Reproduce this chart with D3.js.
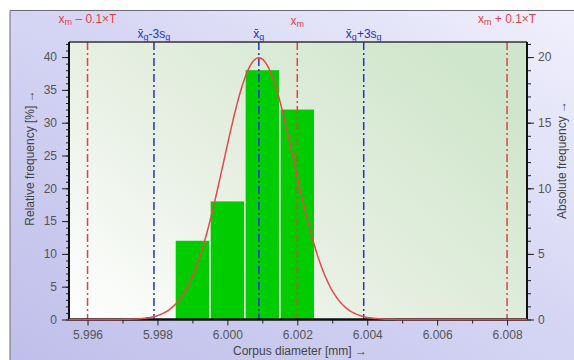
<!DOCTYPE html>
<html lang="en">
<head>
<meta charset="UTF-8">
<title>Corpus diameter histogram</title>
<script src="https://d3js.org/d3.v7.min.js"></script>
<style>
  body { margin: 0; background: #fff; }
  text { font-family: "Liberation Sans", Arial, sans-serif; }
</style>
</head>
<body>
<div id="chart"></div>
<script>
// histogram data
const binStarts = [5.9985, 5.9995, 6.0005, 6.0015];
const binWidth = 0.001;
const relFreq = [12, 18, 38, 32];          // percent
const sampleSize = 50;                       // absolute = rel * 50 / 100
const xTicks = [5.996, 5.998, 6.000, 6.002, 6.004, 6.006, 6.008];

// fitted normal and limits
const meanG = 6.0009, sG = 0.001;
const xm = 6.002, tenthT = 0.006;

const W = 574, H = 360;
const margin = { top: 42, right: 47, bottom: 40.5, left: 69 };
const iw = W - margin.left - margin.right,
      ih = H - margin.top - margin.bottom;

const svg = d3.select("#chart").append("svg")
    .attr("width", W).attr("height", H);

const defs = svg.append("defs");
const outerGrad = defs.append("linearGradient").attr("id", "outerBg")
    .attr("x1", "0").attr("y1", "1").attr("x2", "1").attr("y2", "0");
outerGrad.append("stop").attr("offset", "0").attr("stop-color", "#bfbfeb");
outerGrad.append("stop").attr("offset", "0.55").attr("stop-color", "#d6d6f4");
outerGrad.append("stop").attr("offset", "1").attr("stop-color", "#f0f0fd");

const plotGrad = defs.append("linearGradient").attr("id", "plotBg")
    .attr("x1", "0").attr("y1", "1").attr("x2", "1").attr("y2", "0.3");
plotGrad.append("stop").attr("offset", "0").attr("stop-color", "#ffffff");
plotGrad.append("stop").attr("offset", "0.45").attr("stop-color", "#e8f0e4");
plotGrad.append("stop").attr("offset", "1").attr("stop-color", "#d0e6cc");

// panel background
svg.append("rect").attr("x", 10).attr("y", 10).attr("width", W - 10).attr("height", H - 10)
    .attr("fill", "url(#outerBg)");
svg.append("path").attr("d", `M10,${H} V10.5 H${W}`)
    .attr("fill", "none").attr("stroke", "#6a6a7a").attr("stroke-width", 1);

const g = svg.append("g").attr("transform", `translate(${margin.left},${margin.top})`);

const x = d3.scaleLinear().domain([5.99547, 6.00857]).range([0, iw]);
const y = d3.scaleLinear().domain([0, 42.3]).range([ih, 0]);
const yAbs = d3.scaleLinear().domain([0, 42.3 * sampleSize / 100]).range([ih, 0]);

g.append("rect").attr("width", iw).attr("height", ih).attr("fill", "url(#plotBg)");

// bars
g.selectAll("rect.bar").data(binStarts).join("rect")
    .attr("class", "bar")
    .attr("x", d => x(d) + 0.8)
    .attr("width", d => x(d + binWidth) - x(d) - 1.6)
    .attr("y", (d, i) => y(relFreq[i]))
    .attr("height", (d, i) => ih - y(relFreq[i]))
    .attr("fill", "#00cc00");

// reference lines
const red = "#ec3c44", blue = "#2433c8";
const refLines = [
  { v: xm - tenthT, c: red },
  { v: xm, c: red },
  { v: xm + tenthT, c: red },
  { v: meanG - 3 * sG, c: blue },
  { v: meanG, c: blue },
  { v: meanG + 3 * sG, c: blue }
];
g.selectAll("line.ref").data(refLines).join("line")
    .attr("x1", d => x(d.v)).attr("x2", d => x(d.v))
    .attr("y1", 0).attr("y2", ih)
    .attr("stroke", d => d.c).attr("stroke-width", 1.5)
    .attr("stroke-dasharray", "8,3,2,3");

// axes
const axisStyle = sel => {
  sel.selectAll("text").attr("fill", "#555").style("font-size", "12px")
      .style("font-family", "'Liberation Sans', Arial, sans-serif");
  sel.selectAll("line").attr("stroke", "#222");
  sel.select(".domain").remove();
};

const fmtX = d3.format(".3f");
const xMinor = d3.range(5.996, 6.0085, 0.001).filter(v => !xTicks.some(t => Math.abs(t - v) < 1e-7));
g.append("g").attr("transform", `translate(0,${ih})`)
    .call(d3.axisBottom(x).tickValues(xMinor).tickSize(4).tickFormat(""))
    .call(axisStyle);
g.append("g").attr("transform", `translate(0,${ih})`)
    .call(d3.axisBottom(x).tickValues(xTicks).tickSize(6).tickPadding(5).tickFormat(fmtX))
    .call(axisStyle);

g.append("g")
    .call(d3.axisLeft(y).tickValues(d3.range(0, 43, 1)).tickSize(3).tickFormat(""))
    .call(axisStyle);
g.append("g")
    .call(d3.axisLeft(y).tickValues(d3.range(0, 41, 5)).tickSize(7).tickPadding(5))
    .call(axisStyle);

g.append("g").attr("transform", `translate(${iw},0)`)
    .call(d3.axisRight(yAbs).tickValues(d3.range(0, 22, 1)).tickSize(4).tickFormat(""))
    .call(axisStyle);
g.append("g").attr("transform", `translate(${iw},0)`)
    .call(d3.axisRight(yAbs).tickValues(d3.range(0, 21, 5)).tickSize(7).tickPadding(4))
    .call(axisStyle);

// frame
g.append("line").attr("x1", 0).attr("x2", iw).attr("y1", 0).attr("y2", 0)
    .attr("stroke", "#333").attr("stroke-width", 1.5);
g.append("line").attr("x1", 0).attr("x2", 0).attr("y1", 0).attr("y2", ih)
    .attr("stroke", "#111").attr("stroke-width", 2);
g.append("line").attr("x1", iw).attr("x2", iw).attr("y1", 0).attr("y2", ih)
    .attr("stroke", "#111").attr("stroke-width", 2);
g.append("line").attr("x1", 0).attr("x2", iw).attr("y1", ih).attr("y2", ih)
    .attr("stroke", "#111").attr("stroke-width", 2.5);

// fitted normal curve (relative frequency per bin)
const pdf = v => Math.exp(-0.5 * ((v - meanG) / sG) ** 2) / (sG * Math.sqrt(2 * Math.PI));
const curveX = d3.range(x.domain()[0], x.domain()[1] + 1e-7, 0.00005);
g.append("path")
    .datum(curveX)
    .attr("fill", "none")
    .attr("stroke", "#e8484a")
    .attr("stroke-width", 1.5)
    .attr("d", d3.line().x(d => x(d)).y(d => y(100 * binWidth * pdf(d))));

// labels above the plot
function addLabel(xPos, yPos, color, parts) {
  const t = svg.append("text").attr("x", xPos).attr("y", yPos)
      .attr("text-anchor", "middle").attr("fill", color).style("font-size", "12px");
  parts.forEach(p => {
    const ts = t.append("tspan").text(p.s);
    if (p.sub) ts.attr("baseline-shift", "-25%").style("font-size", "9px");
  });
}
addLabel(margin.left + x(xm - tenthT), 23, red, [{ s: "x" }, { s: "m", sub: true }, { s: " – 0.1×T" }]);
addLabel(margin.left + x(xm), 25, red, [{ s: "x" }, { s: "m", sub: true }]);
addLabel(margin.left + x(xm + tenthT), 23, red, [{ s: "x" }, { s: "m", sub: true }, { s: " + 0.1×T" }]);
addLabel(margin.left + x(meanG - 3 * sG), 38, blue, [{ s: "x\u0304" }, { s: "g", sub: true }, { s: "-3s" }, { s: "g", sub: true }]);
addLabel(margin.left + x(meanG), 38, blue, [{ s: "x\u0304" }, { s: "g", sub: true }]);
addLabel(margin.left + x(meanG + 3 * sG), 38, blue, [{ s: "x\u0304" }, { s: "g", sub: true }, { s: "+3s" }, { s: "g", sub: true }]);

// axis titles
svg.append("text").attr("x", margin.left + iw / 2 + 2).attr("y", 355)
    .attr("text-anchor", "middle").attr("fill", "#444").style("font-size", "12px")
    .text("Corpus diameter [mm] →");
svg.append("text").attr("transform", `translate(34,158) rotate(-90)`)
    .attr("text-anchor", "middle").attr("fill", "#444").style("font-size", "12px")
    .text("Relative frequency [%] →");
svg.append("text").attr("transform", `translate(566,160) rotate(-90)`)
    .attr("text-anchor", "middle").attr("fill", "#444").style("font-size", "12px")
    .text("Absolute frequency →");
</script>
</body>
</html>
